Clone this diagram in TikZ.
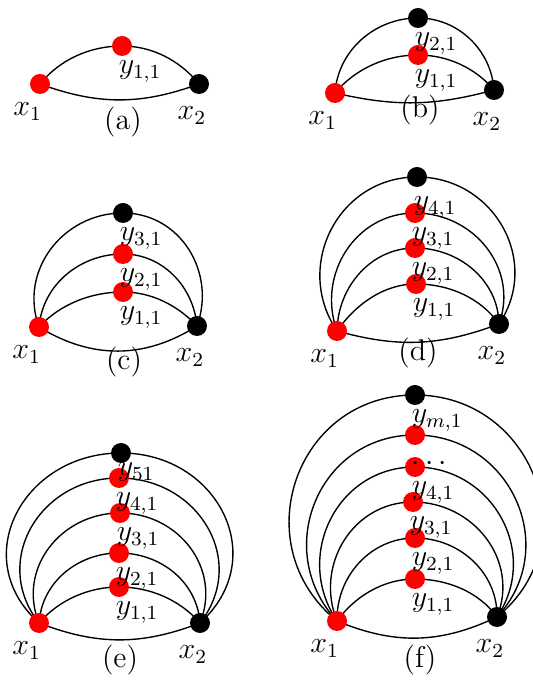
\documentclass[tikz,border=0pt]{standalone}
\usetikzlibrary{backgrounds}
\tikzset{
  redv/.style={circle, fill=red, minimum size=8pt, inner sep=0pt},
  blackv/.style={circle, fill=black, minimum size=8pt, inner sep=0pt},
  link/.style={line width=0.55pt},
  ylab/.style={anchor=north west, inner sep=0pt, xshift=-1.5pt, yshift=-1.6pt},
  xlabl/.style={anchor=north east, inner sep=0pt, xshift=1pt, yshift=-3.2pt},
  xlabr/.style={anchor=north, inner sep=0pt, xshift=-2.8pt, yshift=-4.8pt}
}

\begin{document}
\begin{tikzpicture}[x=0.4pt, y=0.4pt, font=\fontsize{12}{14}\selectfont]
  \useasboundingbox (0,0) rectangle (533,680);

  % (a)
  \node[redv] (a-x1) at (40,596) {};
  \node[blackv] (a-x2) at (199,596) {};
  \node[redv] (a-y1) at (122,634) {};
  \begin{scope}[on background layer]
    \draw[link] (a-x1.center) to[out=51,in=180,looseness=0.9] (a-y1.center) to[out=0,in=129,looseness=0.9] (a-x2.center);
    \draw[link] (a-x1.center) to[bend right=20] (a-x2.center);
  \end{scope}
  \node[ylab] (a-l1) at (a-y1.south) {$y_{1,1}$};
  \node[xlabl] (a-lx1) at (a-x1.south) {$x_1$};
  \node[xlabr] (a-lx2) at (a-x2.south) {$x_2$};
  \node (a-cap) at (123,558) {(a)};

  % (b)
  \node[redv] (b-x1) at (335,587) {};
  \node[blackv] (b-x2) at (494,590) {};
  \node[redv] (b-y1) at (418,625) {};
  \node[blackv] (b-y2) at (418,662) {};
  \begin{scope}[on background layer]
    \foreach \k/\t/\l [evaluate=\t as \u using 180-\t] in {1/50/0.89, 2/86/0.98}
      \draw[link] (b-x1.center) to[out=\t,in=180,looseness=\l] (b-y\k.center) to[out=0,in=\u,looseness=\l] (b-x2.center);
    \draw[link] (b-x1.center) to[bend right=14] (b-x2.center);
  \end{scope}
  \foreach \k in {1,2}
    \node[ylab] (b-l\k) at (b-y\k.south) {$y_{\k,1}$};
  \node[xlabl] (b-lx1) at (b-x1.south) {$x_1$};
  \node[xlabr] (b-lx2) at (b-x2.south) {$x_2$};
  \node (b-cap) at (420,570) {(b)};

  % (c)
  \node[redv] (c-x1) at (39,353) {};
  \node[blackv] (c-x2) at (197,354) {};
  \node[redv] (c-y1) at (123,388) {};
  \node[redv] (c-y2) at (123,426) {};
  \node[blackv] (c-y3) at (123,467) {};
  \begin{scope}[on background layer]
    \foreach \k/\t/\l [evaluate=\t as \u using 180-\t] in {1/47/0.89, 2/85/0.98, 3/110/1.08}
      \draw[link] (c-x1.center) to[out=\t,in=180,looseness=\l] (c-y\k.center) to[out=0,in=\u,looseness=\l] (c-x2.center);
    \draw[link] (c-x1.center) to[bend right=32] (c-x2.center);
  \end{scope}
  \foreach \k in {1,2,3}
    \node[ylab] (c-l\k) at (c-y\k.south) {$y_{\k,1}$};
  \node[xlabl] (c-lx1) at (c-x1.south) {$x_1$};
  \node[xlabr] (c-lx2) at (c-x2.south) {$x_2$};
  \node (c-cap) at (124,318) {(c)};

  % (d)
  \node[redv] (d-x1) at (337,349) {};
  \node[blackv] (d-x2) at (499,356) {};
  \node[redv] (d-y1) at (416,396) {};
  \node[redv] (d-y2) at (415,432) {};
  \node[redv] (d-y3) at (415,467) {};
  \node[blackv] (d-y4) at (417,503) {};
  \begin{scope}[on background layer]
    \foreach \k/\t/\l [evaluate=\t as \u using 180-\t] in {1/55/0.9, 2/89/0.99, 3/110/1.08, 4/124/1.16}
      \draw[link] (d-x1.center) to[out=\t,in=180,looseness=\l] (d-y\k.center) to[out=0,in=\u,looseness=\l] (d-x2.center);
    \draw[link] (d-x1.center) to[bend right=18] (d-x2.center);
  \end{scope}
  \foreach \k in {1,...,3}
    \node[ylab] (d-l\k) at (d-y\k.south) {$y_{\k,1}$};
  \node[ylab, yshift=-2pt] (d-l4) at (d-y4.south) {$y_{4,1}$};
  \node[xlabl] (d-lx1) at (d-x1.south) {$x_1$};
  \node[xlabr] (d-lx2) at (d-x2.south) {$x_2$};
  \node (d-cap) at (418,327) {(d)};

  % (e)
  \node[redv] (e-x1) at (39,57) {};
  \node[blackv] (e-x2) at (200,57) {};
  \node[redv] (e-y1) at (119,93) {};
  \node[redv] (e-y2) at (119,127) {};
  \node[redv] (e-y3) at (120,167) {};
  \node[redv] (e-y4) at (119,202) {};
  \node[blackv] (e-y5) at (121,227) {};
  \begin{scope}[on background layer]
    \foreach \k/\t/\l [evaluate=\t as \u using 180-\t] in {1/49/0.89, 2/86/0.99, 3/112/1.1, 4/128/1.22, 5/138/1.32}
      \draw[link] (e-x1.center) to[out=\t,in=180,looseness=\l] (e-y\k.center) to[out=0,in=\u,looseness=\l] (e-x2.center);
    \draw[link] (e-x1.center) to[bend right=21] (e-x2.center);
  \end{scope}
  \foreach \k in {1,...,4}
    \node[ylab] (e-l\k) at (e-y\k.south) {$y_{\k,1}$};
  \node[ylab, yshift=2pt] (e-l5) at (e-y5.south) {$y_{51}$};
  \node[xlabl] (e-lx1) at (e-x1.south) {$x_1$};
  \node[xlabr] (e-lx2) at (e-x2.south) {$x_2$};
  \node (e-cap) at (120,20) {(e)};

  % (f)
  \node[redv] (f-x1) at (337,59) {};
  \node[blackv] (f-x2) at (497,63) {};
  \node[redv] (f-y1) at (415,101) {};
  \node[redv] (f-y2) at (415,142) {};
  \node[redv] (f-y3) at (413,178) {};
  \node[redv] (f-y4) at (415,213) {};
  \node[redv] (f-y5) at (415,245) {};
  \node[blackv] (f-y6) at (415,285) {};
  \begin{scope}[on background layer]
    \foreach \k/\t/\l [evaluate=\t as \u using 180-\t] in {1/54/0.9, 2/91/1.0, 3/112/1.09, 4/124/1.16, 5/133/1.22, 6/141/1.28}
      \draw[link] (f-x1.center) to[out=\t,in=180,looseness=\l] (f-y\k.center) to[out=0,in=\u,looseness=\l] (f-x2.center);
    \draw[link] (f-x1.center) to[bend right=24] (f-x2.center);
  \end{scope}
  \foreach \k in {1,...,4}
    \node[ylab] (f-l\k) at (f-y\k.south) {$y_{\k,1}$};
  \node[ylab, yshift=-3pt] (f-l5) at (f-y5.south) {$\cdots$};
  \node[ylab] (f-l6) at (f-y6.south) {$y_{m,1}$};
  \node[xlabl] (f-lx1) at (f-x1.south) {$x_1$};
  \node[xlabr] (f-lx2) at (f-x2.south) {$x_2$};
  \node (f-cap) at (420,20) {(f)};
\end{tikzpicture}
\end{document}
